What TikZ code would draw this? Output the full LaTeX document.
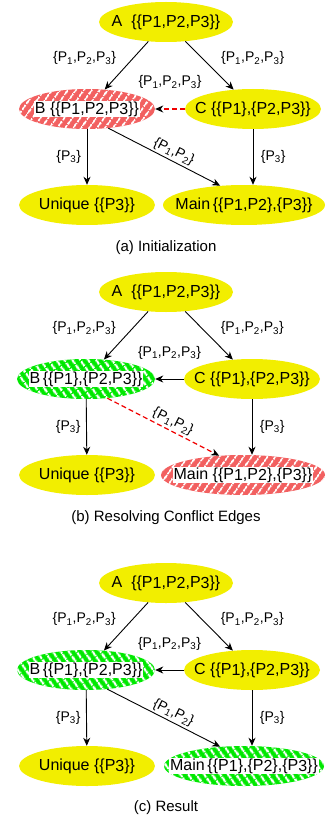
\documentclass[tikz,border=0pt]{standalone}
\usepackage{fontspec}
\setmainfont{Liberation Sans}
\usetikzlibrary{arrows.meta,shapes.geometric,patterns.meta}
\definecolor{ylw}{RGB}{242,238,0}
\definecolor{hred}{RGB}{242,96,96}
\definecolor{hgreen}{RGB}{0,232,0}
\definecolor{dred}{RGB}{240,0,0}
\newcommand\mynodefont{\fontsize{16}{18}\selectfont}
\newcommand\mylblfont{\fontsize{14}{16}\selectfont}
\newcommand\mycapfont{\fontsize{15}{17}\selectfont}
\newcommand\dg[1]{\raisebox{-1.5pt}{#1}}
\newcommand\sbs[1]{\textsubscript{#1}}
\newcommand\plain[1]{\makebox[0pt]{#1}}
\newcommand\wbox[1]{\makebox[0pt]{\setlength{\fboxsep}{0.8pt}\colorbox{white}{#1}}}
\tikzset{
  x=1pt, y=-1pt,
  ellbase/.style={ellipse, inner sep=0pt, minimum height=40pt, font=\mynodefont},
  yel/.style={ellbase, fill=ylw},
  redh/.style={ellbase, fill=hred, postaction={pattern={Lines[angle=55,distance=7.4pt,line width=2pt]}, pattern color=white}},
  grnh/.style={ellbase, fill=hgreen, postaction={pattern={Lines[angle=-55,distance=7.4pt,line width=2.6pt]}, pattern color=white}},
  lbl/.style={font=\mylblfont, inner sep=0.5pt},
  conn/.style={line width=0.9pt, -{Stealth[length=8pt,width=7pt,inset=2.5pt,color=black]}},
  conf/.style={conn, draw=dred, line width=1.2pt, dash pattern=on 5pt off 3pt},
  captext/.style={font=\mycapfont, inner sep=0pt}
}
\begin{document}
\begin{tikzpicture}
\useasboundingbox (0,0) rectangle (325,821);
% ---------- (a) ----------
\node[yel, minimum width=134pt] (A1) at (166,22) {\plain{A\ \ \{\{P\dg1,P\dg2,P\dg3\}\}}};
\node[redh, minimum width=136pt] (B1) at (87,109) {\wbox{B \{\{P\dg1,P\dg2,P\dg3\}\}}};
\node[yel, minimum width=136pt] (C1) at (253,109) {\plain{C \{\{P\dg1\},\{P\dg2,P\dg3\}\}}};
\node[yel, minimum width=136pt] (U1) at (87,205) {\plain{Unique \{\{P\dg3\}\}}};
\node[yel, minimum width=162pt] (M1) at (244,205) {\plain{Main\,\{\{P\dg1,P\dg2\},\{P\dg3\}\}}};
\draw[conn] (A1) -- node[lbl, pos=0.35, left=16pt] (la1) {\{P\sbs1,P\sbs2,P\sbs3\}} (B1);
\draw[conn] (A1) -- node[lbl, pos=0.35, right=18pt] (lb1) {\{P\sbs1,P\sbs2,P\sbs3\}} (C1);
\draw[conf] (C1) -- node[lbl, pos=0.5, above=19pt] (lc1) {\{P\sbs1,P\sbs2,P\sbs3\}} (B1);
\draw[conn] (B1) -- node[lbl, pos=0.5, left=5pt] (ld1) {\{P\sbs3\}} (U1);
\draw[conn] (C1) -- node[lbl, pos=0.5, right=7pt] (le1) {\{P\sbs3\}} (C1 |- M1.north);
\draw[conn] (B1.-42) -- node[lbl, pos=0.55, sloped, above=1.5pt] (lf1) {\{P\sbs1,P\sbs2\}} (M1.141);
\node[captext] (cap1) at (166,248) {(a) Initialization};
% ---------- (b) ----------
\begin{scope}[yshift=-270pt]
\node[yel, minimum width=134pt] (A2) at (166,22) {\plain{A\ \ \{\{P\dg1,P\dg2,P\dg3\}\}}};
\node[grnh, minimum width=138pt] (B2) at (86,109) {\wbox{B\,\{\{P\dg1\},\{P\dg2,P\dg3\}\}}};
\node[yel, minimum width=136pt] (C2) at (252,109) {\plain{C \{\{P\dg1\},\{P\dg2,P\dg3\}\}}};
\node[yel, minimum width=136pt] (U2) at (87,205) {\plain{Unique \{\{P\dg3\}\}}};
\node[redh, minimum width=164pt] (M2) at (243,205) {\wbox{Main \{\{P\dg1,P\dg2\},\{P\dg3\}\}}};
\draw[conn] (A2) -- node[lbl, pos=0.35, left=16pt] (la2) {\{P\sbs1,P\sbs2,P\sbs3\}} (B2);
\draw[conn] (A2) -- node[lbl, pos=0.35, right=18pt] (lb2) {\{P\sbs1,P\sbs2,P\sbs3\}} (C2);
\draw[conn] (C2) -- node[lbl, pos=0.5, above=19pt] (lc2) {\{P\sbs1,P\sbs2,P\sbs3\}} (B2);
\draw[conn] (B2) -- node[lbl, pos=0.5, left=5pt] (ld2) {\{P\sbs3\}} (U2);
\draw[conn] (C2) -- node[lbl, pos=0.5, right=7pt] (le2) {\{P\sbs3\}} (C2 |- M2.north);
\draw[conf] (B2.-42) -- node[lbl, pos=0.55, sloped, above=1.5pt] (lf2) {\{P\sbs1,P\sbs2\}} (M2.141);
\node[captext] (cap2) at (166,248) {(b) Resolving Conflict Edges};
\end{scope}
% ---------- (c) ----------
\begin{scope}[yshift=-561pt]
\node[yel, minimum width=134pt] (A3) at (166,22) {\plain{A\ \ \{\{P\dg1,P\dg2,P\dg3\}\}}};
\node[grnh, minimum width=138pt] (B3) at (86,109) {\wbox{B\,\{\{P\dg1\},\{P\dg2,P\dg3\}\}}};
\node[yel, minimum width=136pt] (C3) at (252,109) {\plain{C \{\{P\dg1\},\{P\dg2,P\dg3\}\}}};
\node[yel, minimum width=136pt] (U3) at (87,205) {\plain{Unique \{\{P\dg3\}\}}};
\node[grnh, minimum width=160pt] (M3) at (244,205) {\wbox{Main\,\{\{P\dg1\},\{P\dg2\},\{P\dg3\}\}}};
\draw[conn] (A3) -- node[lbl, pos=0.35, left=16pt] (la3) {\{P\sbs1,P\sbs2,P\sbs3\}} (B3);
\draw[conn] (A3) -- node[lbl, pos=0.35, right=18pt] (lb3) {\{P\sbs1,P\sbs2,P\sbs3\}} (C3);
\draw[conn] (C3) -- node[lbl, pos=0.5, above=19pt] (lc3) {\{P\sbs1,P\sbs2,P\sbs3\}} (B3);
\draw[conn] (B3) -- node[lbl, pos=0.5, left=5pt] (ld3) {\{P\sbs3\}} (U3);
\draw[conn] (C3) -- node[lbl, pos=0.5, right=7pt] (le3) {\{P\sbs3\}} (C3 |- M3.north);
\draw[conn] (B3.-42) -- node[lbl, pos=0.55, sloped, above=1.5pt] (lf3) {\{P\sbs1,P\sbs2\}} (M3.141);
\node[captext] (cap3) at (166,247) {(c) Result};
\end{scope}
\end{tikzpicture}
\end{document}
